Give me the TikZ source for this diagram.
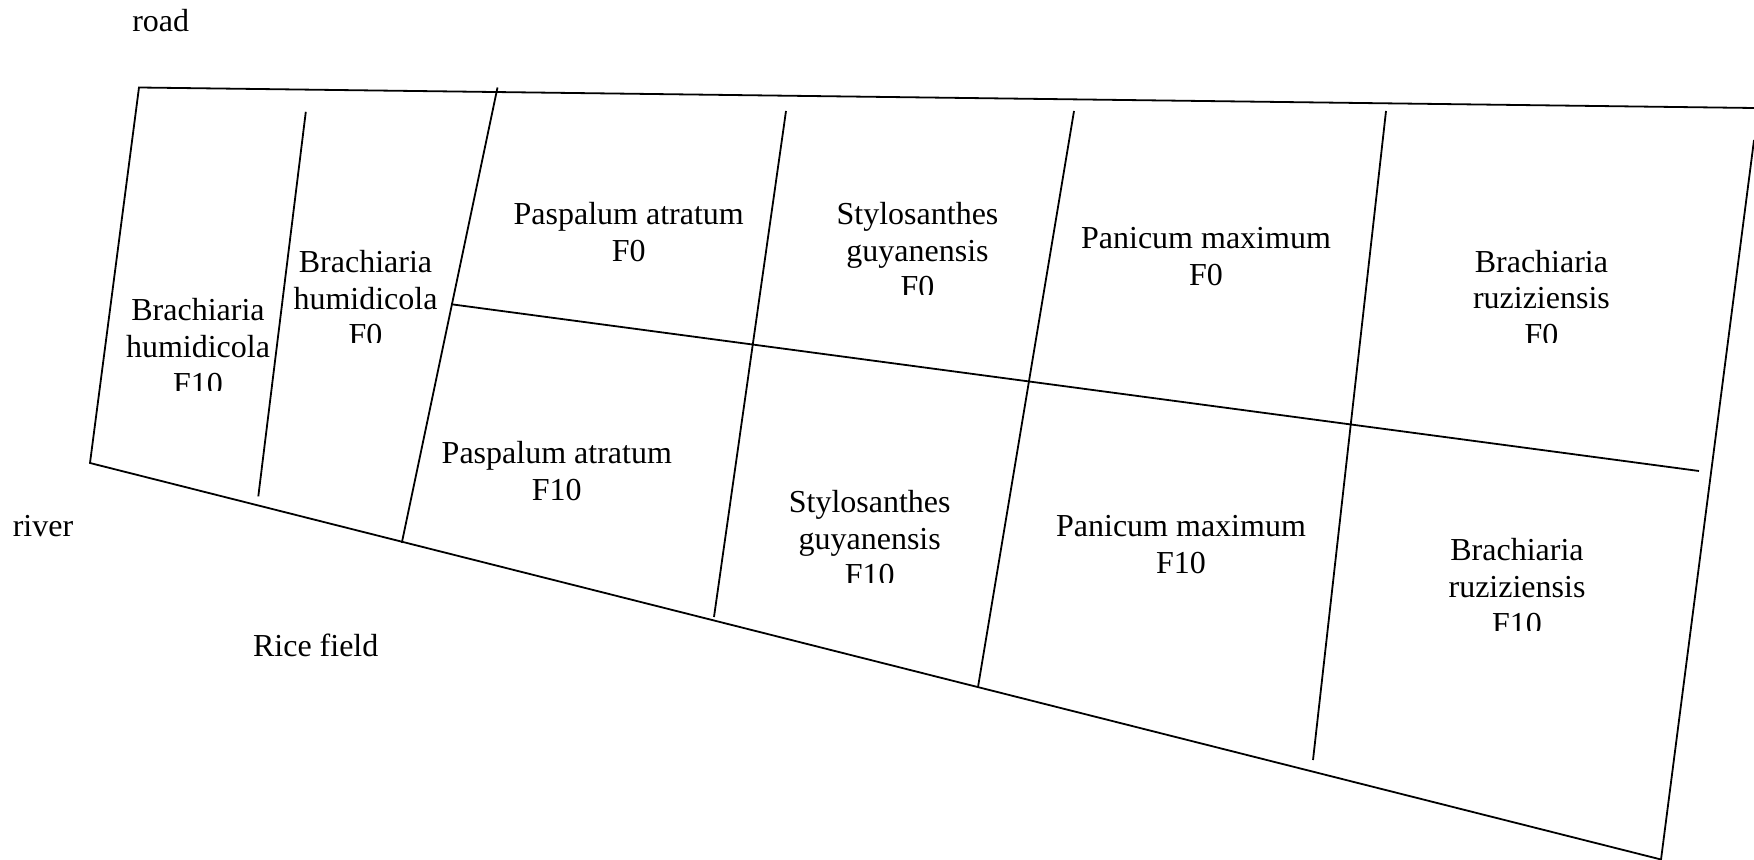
\documentclass[tikz,border=0pt]{standalone}
\usepackage{fontspec}
\setmainfont{Liberation Serif}
\newcommand{\cell}[1]{\begin{tabular}[t]{@{}c@{}}#1\end{tabular}}
\begin{document}
\begin{tikzpicture}[x=0.5pt,y=-0.5pt,
  edge/.style={line width=0.9pt},
  lbl/.style={anchor=base, inner sep=0pt, yshift=-0.7pt, font=\fontsize{16}{18.4}\selectfont}]
\useasboundingbox (0,0) rectangle (1754,860);
% outline corners
\coordinate (TL) at (139,87.5);
\coordinate (TR) at (1754,108);
\coordinate (RT) at (1754,140);
\coordinate (BR) at (1661,859.5);
\coordinate (BL) at (90,463);
% dividers
\coordinate (d1a) at (305.8,111.8); \coordinate (d1b) at (258.3,496.4);
\coordinate (d2a) at (497.5,87.5);  \coordinate (d2b) at (401.8,542.9);
\coordinate (d3a) at (786,111);     \coordinate (d3b) at (714,617);
\coordinate (d4a) at (1074,111);    \coordinate (d4b) at (978,687);
\coordinate (d5a) at (1386,111);    \coordinate (d5b) at (1313,760);
\coordinate (m1) at (451.6,304.3);  \coordinate (m2) at (1699,471);

\draw[edge] (TR) -- (TL) -- (BL) -- (BR) -- (RT);
\draw[edge] (d1a) -- (d1b);
\draw[edge] (d2a) -- (d2b);
\draw[edge] (d3a) -- (d3b);
\draw[edge] (d4a) -- (d4b);
\draw[edge] (d5a) -- (d5b);
\draw[edge] (m1) -- (m2);

% outside labels
\node[lbl] (road) at (160.7,30.4) {road};
\node[lbl] (river) at (43,535) {river};
\node[lbl] (rice) at (315.7,655) {Rice field};

% plot labels
\begin{scope}
\clip (0,0) rectangle (1754,391);
\node[lbl] (bh10) at (198,319.6) {\cell{Brachiaria\\humidicola\\F10}};
\end{scope}
\begin{scope}
\clip (0,0) rectangle (1754,343);
\node[lbl] (bh0) at (365.5,271) {\cell{Brachiaria\\humidicola\\F0}};
\end{scope}
\node[lbl] (pa0) at (628.7,223) {\cell{Paspalum atratum\\F0}};
\begin{scope}
\clip (0,0) rectangle (1754,294.4);
\node[lbl] (sg0) at (917.5,223) {\cell{Stylosanthes\\guyanensis\\F0}};
\end{scope}
\node[lbl] (pm0) at (1206,247.6) {\cell{Panicum maximum\\F0}};
\begin{scope}
\clip (0,0) rectangle (1754,343);
\node[lbl] (br0) at (1541.4,270.7) {\cell{Brachiaria\\ruziziensis\\F0}};
\end{scope}
\node[lbl] (pa10) at (556.8,462.5) {\cell{Paspalum atratum\\F10}};
\begin{scope}
\clip (0,0) rectangle (1754,582);
\node[lbl] (sg10) at (869.7,511) {\cell{Stylosanthes\\guyanensis\\F10}};
\end{scope}
\node[lbl] (pm10) at (1181,535) {\cell{Panicum maximum\\F10}};
\begin{scope}
\clip (0,0) rectangle (1754,630);
\node[lbl] (br10) at (1517,559) {\cell{Brachiaria\\ruziziensis\\F10}};
\end{scope}
\end{tikzpicture}
\end{document}
